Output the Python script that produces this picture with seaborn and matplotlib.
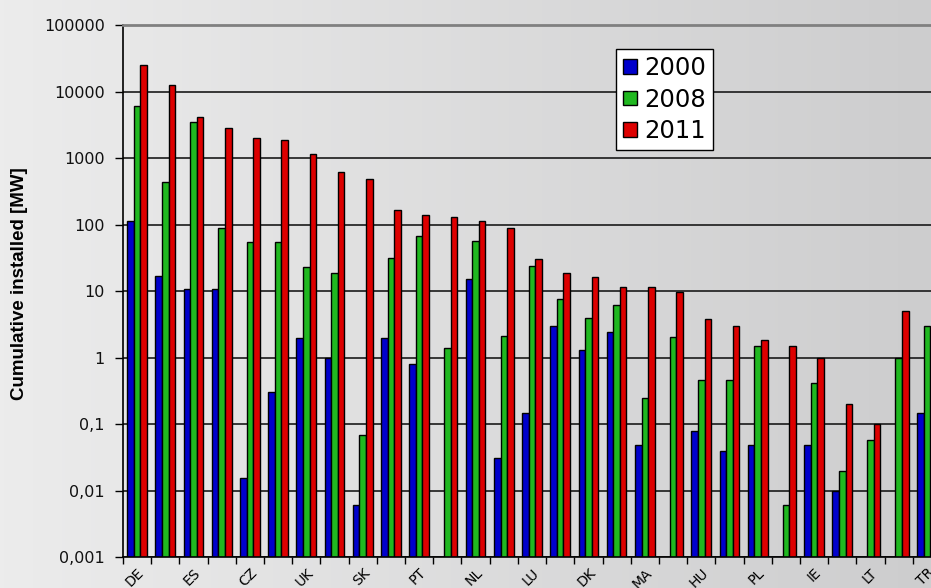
import numpy as np
import pandas as pd
import matplotlib
matplotlib.use("Agg")
import matplotlib.pyplot as plt
import matplotlib.ticker as ticker
import seaborn as sns

# data (MW, log scale); NaN = no bar drawn
groups = list(range(29))
tick_labels = ["DE", "", "ES", "", "CZ", "", "UK", "", "SK", "", "PT", "", "NL", "", "LU",
               "", "DK", "", "MA", "", "HU", "", "PL", "", "IE", "", "LT", "", "TR"]
years = ["2000", "2008", "2011"]
mw_2000 = [115, 16.8, 10.8, 10.8, 0.0155, 0.31, 2.0, 1.0, 0.0062, 2.0, 0.81, np.nan, 15.2, 0.031,
           0.148, 3.0, 1.32, 2.46, 0.048, np.nan, 0.079, 0.039, 0.048, np.nan, 0.048, 0.01,
           np.nan, np.nan, 0.148]
mw_2008 = [6120, 443, 3450, 90, 54, 54, 22.7, 18.5, 0.068, 31.7, 67, 1.38, 56, 2.14,
           23.8, 7.7, 3.95, 6.1, 0.245, 2.02, 0.455, 0.455, 1.52, 0.0062, 0.41, 0.0195,
           0.058, 0.99, 3.0]
mw_2011 = [24800, 12500, 4180, 2830, 2020, 1850, 1170, 624, 486, 168, 138, 130, 114, 89,
           30, 18.5, 16.6, 11.5, 11.5, 9.8, 3.8, 3.0, 1.85, 1.52, 0.98, 0.2,
           0.1, 5.0, np.nan]
y_ticks = [0.001, 0.01, 0.1, 1, 10, 100, 1000, 10000, 100000]
y_tick_labels = ["0,001", "0,01", "0,1", "1", "10", "100", "1000", "10000", "100000"]

colors = ["#0000cc", "#20b820", "#dd0000"]

df = pd.DataFrame({
    "group": groups * 3,
    "year": [years[0]] * 29 + [years[1]] * 29 + [years[2]] * 29,
    "mw": mw_2000 + mw_2008 + mw_2011,
})

W, H = 931, 588
fig = plt.figure(figsize=(W / 100, H / 100), dpi=100)

# gradient background over the whole figure
bg = fig.add_axes([0, 0, 1, 1], zorder=-10)
grad = np.linspace(0, 1, 256).reshape(1, -1)
bg.imshow(grad, aspect="auto", cmap=matplotlib.colors.LinearSegmentedColormap.from_list(
    "g", ["#ececec", "#cdcdce"]), extent=[0, 1, 0, 1])
bg.axis("off")

ax = fig.add_axes([123 / W, 30.7 / H, 818 / W, 532.3 / H])
ax.set_facecolor("none")
ax.set_yscale("log")

sns.barplot(data=df, x="group", y="mw", hue="year", hue_order=years, order=groups,
            palette=colors, saturation=1, width=0.7, edgecolor="black", linewidth=1,
            errorbar=None, ax=ax)

ax.set_ylim(0.001, 100000)
ax.set_xlim(-0.5, 28.5)

ax.yaxis.set_major_locator(ticker.FixedLocator(y_ticks))
ax.yaxis.set_major_formatter(ticker.FixedFormatter(y_tick_labels))
ax.yaxis.set_minor_locator(ticker.NullLocator())
ax.tick_params(axis="y", which="major", length=6, width=1, pad=7, labelsize=11.5,
               color="black", labelcolor="#111111")

ax.set_xticks(groups)
ax.set_xticklabels(tick_labels, rotation=45, ha="right", rotation_mode="anchor", fontsize=10)
ax.set_xticks(np.arange(-0.5, 29, 1), minor=True)
ax.tick_params(axis="x", which="major", length=0, pad=6)
ax.tick_params(axis="x", which="minor", length=5, width=1, color="black")

ax.yaxis.grid(True, color="#1a1a1a", linewidth=1.2)
ax.set_axisbelow(True)

ax.set_xlabel("")
ax.set_ylabel("")
for s in ["left", "bottom"]:
    ax.spines[s].set_color("black")
    ax.spines[s].set_linewidth(1.2)
ax.spines["top"].set_color("#808080")
ax.spines["top"].set_linewidth(2)
ax.spines["right"].set_visible(False)

fig.text(20 / W, 1 - 284 / H, "Cumulative installed [MW]", rotation=90, ha="center",
         va="center", fontsize=13.5, fontweight="bold", family="Liberation Sans")

handles, labels = ax.get_legend_handles_labels()
ax.legend_.remove()
leg = ax.legend(handles, labels, loc="upper left", bbox_to_anchor=(616 / W, 1 - 49 / H),
                bbox_transform=fig.transFigure, fontsize=17.5, frameon=True, fancybox=False,
                handlelength=0.55, handleheight=0.55, handletextpad=0.3, labelspacing=0.3,
                borderpad=0.3, borderaxespad=0)
leg.get_frame().set_edgecolor("black")
leg.get_frame().set_facecolor("white")
leg.get_frame().set_linewidth(1)
leg.get_frame().set_alpha(1)

fig.savefig("out.png", dpi=100)
